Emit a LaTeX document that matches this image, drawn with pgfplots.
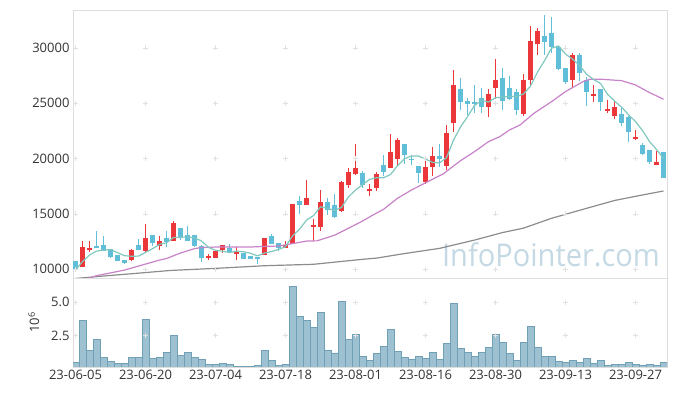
\documentclass[border=0pt]{standalone}
\usepackage{pgfplots}
\pgfplotsset{compat=1.18}
\usepackage{pgfplotstable}
\usepackage{fontspec}
\setmainfont{Open Sans}
\definecolor{upred}{RGB}{235,54,58}
\definecolor{dnblue}{RGB}{96,190,216}
\definecolor{maA}{RGB}{128,200,190}
\definecolor{maB}{RGB}{200,130,200}
\definecolor{maC}{RGB}{140,140,140}
\definecolor{volfill}{RGB}{157,193,209}
\definecolor{voledge}{RGB}{112,160,182}
\definecolor{frame}{RGB}{222,222,222}
\definecolor{lbl}{RGB}{51,51,51}
\definecolor{wm}{RGB}{196,217,228}
\definecolor{gridp}{RGB}{225,225,225}

\pgfplotstableread{
x o h l c
1 10210 12530 10150 11990
2 11780 12530 11510 11930
8 10840 11800 10750 11750
10 11630 14070 11420 12800
12 12080 12990 11690 12530
14 12560 14320 12500 14140
19 11020 11360 10840 11180
20 11020 11650 10980 11600
21 11750 12200 11420 12160
23 11380 11990 10790 11630
27 11270 12850 11250 12800
30 11930 12530 11900 12140
31 12300 15900 12250 15880
33 15830 18050 15780 16430
34 13830 14500 12560 13950
35 13830 17120 13410 16060
38 15210 17930 15150 17870
39 17570 19170 17300 18750
40 18620 21310 18500 19140
42 17100 17720 16580 17230
43 17290 18750 17100 18600
45 19170 22190 19110 20560
46 19980 21860 19350 21670
50 17900 19740 17660 19200
51 19200 21040 18440 20200
53 19350 23000 18960 22280
54 23190 27980 22400 26630
59 24620 26290 23730 25840
60 26380 28980 25360 27110
64 24050 27610 23800 27110
65 27110 31990 26650 30630
66 30390 31780 29400 31540
71 27060 29580 26440 29340
74 25700 26630 25070 25830
76 24250 25300 24150 24510
77 23800 25240 23560 24620
80 21810 22580 21630 21980
83 19440 20710 19400 19650
}\uptab

\pgfplotstableread{
x o h l c
0 10720 10750 9900 9980
3 12100 13440 11950 11960
4 12170 12960 11600 11660
5 11780 11800 11000 11090
6 11270 11300 10700 10750
7 10810 10850 10450 10540
9 12170 12710 11700 11720
11 13080 13100 12100 12380
13 12800 13440 12020 12440
15 13680 13700 12600 12870
16 13050 13860 12500 12560
17 13050 13100 12000 12110
18 12110 12150 10610 11030
22 11900 12240 11500 11510
24 11450 11480 10900 10930
25 11180 11200 10900 10910
26 11090 11120 10420 10970
28 13010 13140 12280 12310
29 12350 12400 11600 11870
32 16150 16580 14950 15790
36 16060 16430 14860 15310
37 15760 16790 14650 14680
41 18690 18840 17300 17630
44 19380 20290 18390 18780
47 21280 21320 19480 20270
48 19990 20290 19410 19870
49 19320 19360 17760 18720
52 20200 21280 19260 19990
55 26290 27310 24390 25140
56 25200 25500 23970 24900
57 25110 26630 24150 24990
58 25480 26330 24150 24620
61 27290 28160 24390 25200
62 26340 27440 25300 25390
63 26020 26300 23940 24390
67 31090 32960 29350 30540
68 31330 32780 29520 30050
69 30120 30200 28000 28130
70 28190 28200 26700 26920
72 29340 29580 27030 27700
73 27110 27400 24750 25990
75 26250 26300 24250 25070
78 24000 24560 22960 23240
79 23780 23800 21470 22350
81 21190 21380 20320 20440
82 20770 20800 19530 19650
84 20590 20600 18200 18240
}\dntab

\pgfplotstableread{
x v
0 9910
1 10680
2 11270
3 11620
4 11720
5 11760
6 11484
7 11206
8 11158
9 11170
10 11512
11 11838
12 12236
13 12374
14 12858
15 12872
16 12908
17 12824
18 12542
19 11950
20 11696
21 11616
22 11496
23 11616
24 11566
25 11428
26 11190
27 11448
28 11584
29 11772
30 12018
31 13000
32 13598
33 14422
34 14838
35 15622
36 15508
37 15286
38 15574
39 16534
40 17150
41 17614
42 18108
43 18254
44 18260
45 18544
46 19352
47 19976
48 20230
49 20218
50 19946
51 19652
52 19596
53 20078
54 21660
55 22848
56 23788
57 24788
58 25256
59 25098
60 25492
61 25552
62 25632
63 25586
64 25840
65 26544
66 27812
67 28842
68 29974
69 30178
70 29436
71 28996
72 28428
73 27616
74 27150
75 26780
76 25814
77 25198
78 24648
79 23958
80 23340
81 22526
82 21534
83 20816
84 19994
}\maAtab

\pgfplotstableread{
x v
0 8800
3 9400
5 9650
7 9910
10 10450
12 10810
13 10950
15 11450
17 11850
18 11940
20 11990
22 12000
25 11990
27 12050
29 12080
31 12300
33 12530
34.5 12550
37 13060
38.5 13530
41 14340
42.5 14890
44 15400
46 16400
48 17150
50 17800
52.5 18600
55 19800
57 20620
59 21520
60.6 21970
62 22580
63.5 23030
65.5 24090
68 25140
70 26050
72.5 26950
73.5 27170
75 27170
78 27040
80 26650
82 25960
84 25360
}\maBtab

\pgfplotstableread{
x v
0 9150
5 9420
10 9680
13.5 9870
20 10060
27 10300
34 10430
41 10880
43 10990
47 11400
52 11870
57 12620
61 13300
64 13700
68 14590
73 15490
77 16200
81 16700
84 17060
}\maCtab

\pgfplotstableread{
x v
0 0.51
1 3.65
2 1.41
3 2.23
4 0.88
5 0.58
6 0.43
7 0.43
8 0.88
9 0.88
10 3.73
11 0.81
12 0.88
13 1.26
14 2.53
15 1.03
16 1.26
17 0.88
18 0.73
19 0.36
20 0.36
21 0.43
22 0.36
23 0.21
24 0.21
25 0.21
26 0.28
27 1.41
28 0.66
29 0.28
30 0.36
31 6.20
32 3.95
33 3.65
34 3.13
35 4.25
36 1.41
37 1.21
38 5.08
39 2.23
40 2.61
41 0.96
42 0.66
43 1.18
44 1.71
45 2.98
46 1.33
47 0.88
48 0.73
49 0.96
50 0.81
51 1.26
52 0.73
53 1.93
54 4.93
55 1.56
56 1.26
57 0.96
58 1.26
59 1.63
60 2.61
61 2.01
62 1.18
63 0.66
64 2.01
65 3.21
66 1.63
67 0.96
68 0.96
69 0.58
70 0.51
71 0.66
72 0.51
73 0.81
74 0.43
75 0.66
76 0.28
77 0.36
78 0.36
79 0.51
80 0.36
81 0.28
82 0.36
83 0.28
84 0.51
}\voltab

\pgfplotsset{
  candle/.style 2 args={forget plot, only marks, mark=*, mark size=0pt, mark options={draw=none, fill=none},
    error bars/.cd, y dir=both, y explicit, error mark=none,
    error bar style={line width=#1, draw=#2}},
}

\begin{document}
\begin{tikzpicture}
\useasboundingbox (0,0) rectangle (677pt,396pt);
\node[text=wm, font=\fontsize{29}{32}\selectfont, anchor=center, inner sep=0pt, yscale=1.08] at (551pt,141pt) {InfoPointer.com};
\begin{axis}[
  name=top, at={(73pt,118pt)}, anchor=south west, scale only axis,
  width=594pt, height=268pt,
  xmin=-0.36, xmax=84.5, ymin=9190, ymax=33430,
  axis line style={frame},
  xtick={0,10,...,80}, xticklabels={},
  ytick={10000,15000,20000,25000,30000},
  scaled y ticks=false,
  major tick length=0pt,
  tick label style={font=\fontsize{13}{15}\selectfont, text=lbl},
  /pgf/number format/1000 sep={},
  /pgf/number format/assume math mode=true,
]
\addplot[forget plot, only marks, mark=+, mark size=2.5pt, gridp] coordinates {
(0,10000)(10,10000)(20,10000)(30,10000)(40,10000)(50,10000)(60,10000)(70,10000)(80,10000)
(0,15000)(10,15000)(20,15000)(30,15000)(40,15000)(50,15000)(60,15000)(70,15000)(80,15000)
(0,20000)(10,20000)(20,20000)(30,20000)(40,20000)(50,20000)(60,20000)(70,20000)(80,20000)
(0,25000)(10,25000)(20,25000)(30,25000)(40,25000)(50,25000)(60,25000)(70,25000)(80,25000)
(0,30000)(10,30000)(20,30000)(30,30000)(40,30000)(50,30000)(60,30000)(70,30000)(80,30000)
};
% wicks
\addplot[candle={1.1pt}{upred}]
  table[x=x, y expr={(\thisrow{h}+\thisrow{l})/2}, y error expr={(\thisrow{h}-\thisrow{l})/2}] {\uptab};
\addplot[candle={1.1pt}{dnblue}]
  table[x=x, y expr={(\thisrow{h}+\thisrow{l})/2}, y error expr={(\thisrow{h}-\thisrow{l})/2}] {\dntab};
% bodies
\addplot[candle={4.6pt}{upred}]
  table[x=x, y expr={(\thisrow{o}+\thisrow{c})/2}, y error expr={abs(\thisrow{c}-\thisrow{o})/2}] {\uptab};
\addplot[candle={4.6pt}{dnblue}]
  table[x=x, y expr={(\thisrow{o}+\thisrow{c})/2}, y error expr={abs(\thisrow{c}-\thisrow{o})/2}] {\dntab};
% moving averages
\addplot[maC, line width=1.2pt, line join=round] table[x=x, y=v] {\maCtab};
\addplot[maB, line width=1.2pt, line join=round] table[x=x, y=v] {\maBtab};
\addplot[maA, line width=1.2pt, line join=round] table[x=x, y=v] {\maAtab};
\end{axis}

\begin{axis}[
  name=vol, at={(73pt,29pt)}, anchor=south west, scale only axis,
  width=594pt, height=89pt,
  xmin=-0.36, xmax=84.5, ymin=0.15, ymax=6.82,
  axis line style={frame},
  xtick={0,10,...,80},
  xticklabels={23-06-05,23-06-20,23-07-04,23-07-18,23-08-01,23-08-16,23-08-30,23-09-13,23-09-27},
  ytick={2.5,5},
  major tick length=0pt,
  tick label style={font=\fontsize{13}{15}\selectfont, text=lbl},
  yticklabel style={/pgf/number format/fixed, /pgf/number format/fixed zerofill, /pgf/number format/precision=1},
  /pgf/number format/assume math mode=true,
  ylabel={10\textsuperscript{6}},
  ylabel shift=5pt,
  ylabel style={font=\fontsize{13}{15}\selectfont, text=lbl},
]
\addplot[forget plot, only marks, mark=+, mark size=2.5pt, gridp] coordinates {
(0,2.5)(10,2.5)(20,2.5)(30,2.5)(40,2.5)(50,2.5)(60,2.5)(70,2.5)(80,2.5)
(0,5)(10,5)(20,5)(30,5)(40,5)(50,5)(60,5)(70,5)(80,5)
};
\addplot[ybar, bar width=1, fill=volfill, draw=voledge, line width=0.6pt] table[x=x, y=v] {\voltab};
\end{axis}
\end{tikzpicture}
\end{document}
